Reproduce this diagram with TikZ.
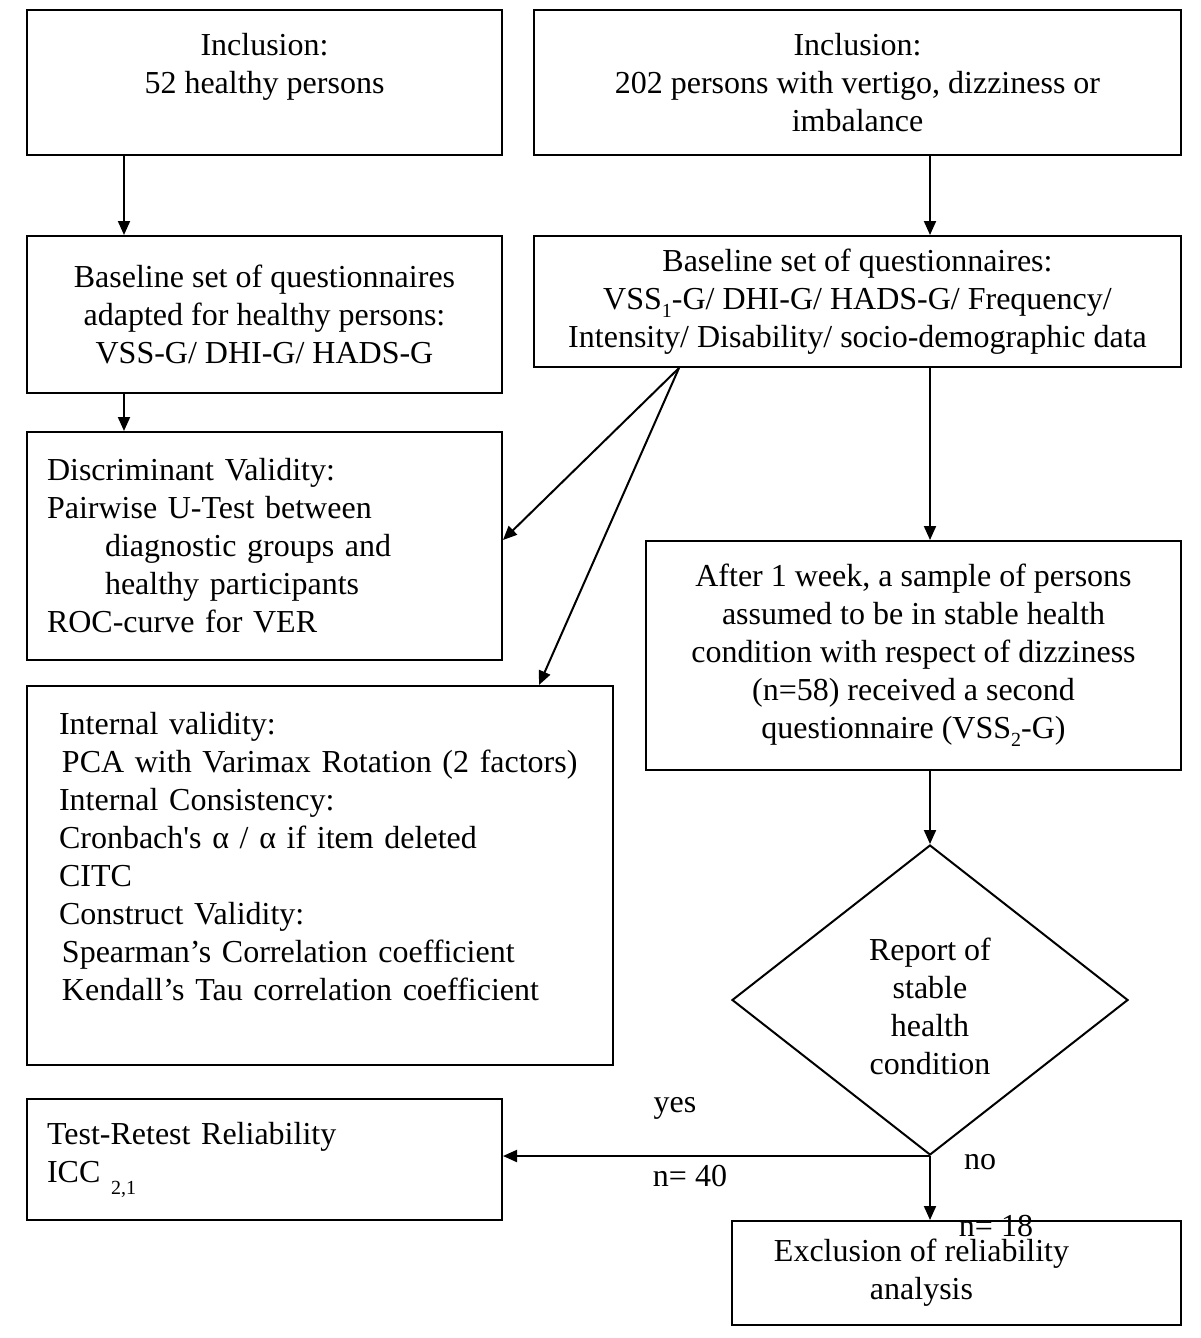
\documentclass[tikz,border=0pt]{standalone}
\usepackage{fontspec}
\setmainfont{Liberation Serif}
\usetikzlibrary{positioning,calc,shapes.geometric,arrows.meta}
\newcommand{\lowsub}[2][4pt]{\raisebox{-#1}{\fontsize{10}{10}\selectfont #2}}

\begin{document}
\begin{tikzpicture}[x=0.5pt,y=-0.5pt,
  every node/.style={font=\fontsize{16}{19}\selectfont},
  box/.style={draw,line width=1pt,inner sep=0pt,align=center},
  lbox/.style={draw,line width=1pt,inner ysep=0pt,align=left},
  arr/.style={line width=1pt,-{Triangle[length=7pt,width=6pt]}}]
  \useasboundingbox (0,0) rectangle (1200,1338);
  % left column
  \node[box,minimum width=237.5pt,minimum height=72.5pt] at (264.5,82.5) (incl1) {Inclusion:\\52 healthy persons\\ \mbox{}};
  \node[box,minimum width=237.5pt,minimum height=78.5pt] at (264.5,314.5) (base1) {Baseline set of questionnaires\\adapted for healthy persons:\\VSS-G/ DHI-G/ HADS-G};
  \node[lbox,inner xsep=10pt,text width=217.5pt,minimum height=114pt] at (264.5,546) (discr) {Discriminant Validity:\\Pairwise U-Test between\\\hspace*{29pt}diagnostic groups and\\\hspace*{29pt}healthy participants\\ROC-curve for VER};
  \node[lbox,inner xsep=16pt,text width=261pt,minimum height=189.5pt] at (320,875.5) (intern) {Internal validity:\\\hspace*{1.5pt}PCA with Varimax Rotation (2 factors)\\Internal Consistency:\\Cronbach\textquotesingle s α / α if item deleted\\CITC\\Construct Validity:\\\hspace*{1.5pt}Spearman’s Correlation coefficient\\\hspace*{1.5pt}Kendall’s Tau correlation coefficient\\ \mbox{}};
  \node[lbox,inner xsep=10pt,text width=217.5pt,minimum height=60.5pt] at (264.5,1159.5) (retest) {Test-Retest Reliability\\ICC \lowsub[6pt]{2,1}};
  % right column
  \node[box,minimum width=323.5pt,minimum height=72.5pt] at (857.5,82.5) (incl2) {Inclusion:\\202 persons with vertigo, dizziness or\\imbalance};
  \node[box,minimum width=323.5pt,minimum height=65.5pt] at (857.5,301.5) (base2) {Baseline set of questionnaires:\\VSS\lowsub{1}-G/ DHI-G/ HADS-G/ Frequency/\\Intensity/ Disability/ socio-demographic data};
  \node[box,minimum width=267.5pt,minimum height=114.5pt] at (913.5,655.5) (week) {After 1 week, a sample of persons\\assumed to be in stable health\\condition with respect of dizziness\\(n=58) received a second\\questionnaire (VSS\lowsub{2}-G)};
  \node[draw,diamond,line width=1pt,inner sep=0pt,minimum width=198pt,minimum height=155pt,align=center] at (930,1000) (report) {\mbox{}\\[-1pt]Report of\\stable\\health\\condition};
  \node[box,minimum width=224.5pt,minimum height=52pt] at (956.5,1273) (excl) {Exclusion of reliability\hspace*{35pt}\\analysis\hspace*{35pt}};
  % labels
  \node at (675,1108) (yes) {yes};
  \node at (690,1176) (n40) {n= 40};
  \node at (980,1162) (no) {no};
  \node at (996,1226) (n18) {n= 18};
  % connectors
  \coordinate (split) at ([xshift=73pt]base2.south west);
  \draw[arr] ([xshift=49pt]incl1.south west) -- ([xshift=49pt]base1.north west);
  \draw[arr] ([xshift=49pt]base1.south west) -- ([xshift=49pt]discr.north west);
  \draw[arr] (incl2.south -| report.north) -- (base2.north -| report.north);
  \draw[arr] (base2.south -| report.north) -- (week.north -| report.north);
  \draw[arr] (week.south -| report.north) -- (report.north);
  \draw[arr] (split) -- ([yshift=3pt]discr.east);
  \draw[arr] (split) -- ([xshift=256.5pt]intern.north west);
  \draw[arr] (report.south) -- (report.south -| retest.east);
  \draw[arr] (report.south) -- (excl.north -| report.south);
\end{tikzpicture}
\end{document}
